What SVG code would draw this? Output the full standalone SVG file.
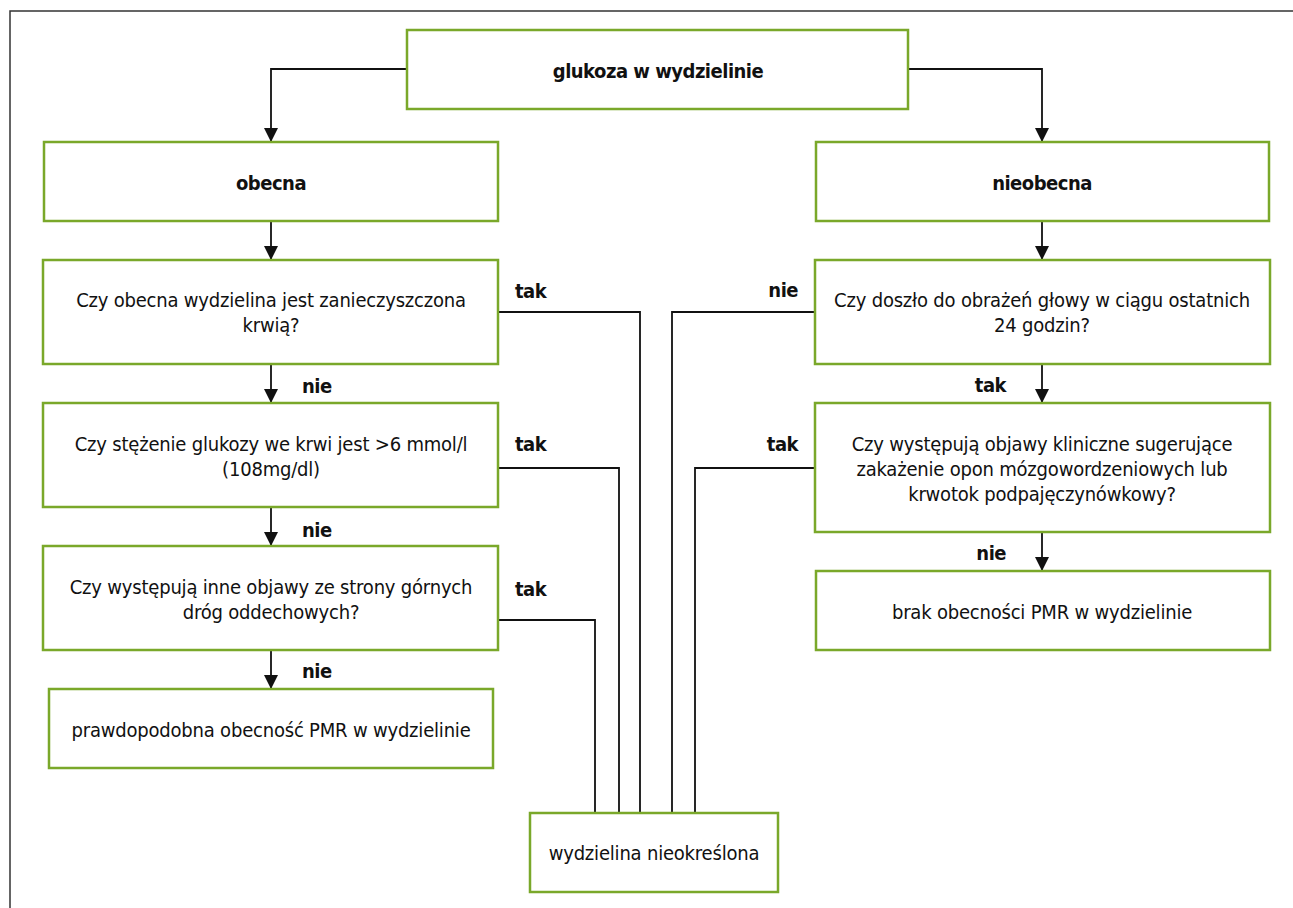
<svg xmlns="http://www.w3.org/2000/svg" width="1293" height="908" viewBox="0 0 1293 908">
<style>
.box{fill:#fff;stroke:#7aa82a;stroke-width:2.5}
.t{font-family:"Liberation Sans Narrow","Arial Narrow","DejaVu Sans Condensed",sans-serif;font-stretch:condensed;font-size:20px;letter-spacing:-0.2px;fill:#111;text-anchor:middle}
.b{font-family:"Liberation Sans Narrow","Arial Narrow","DejaVu Sans Condensed",sans-serif;font-stretch:condensed;font-size:20px;letter-spacing:-0.5px;font-weight:bold;fill:#111}
.c{fill:none;stroke:#111;stroke-width:1.8}
.m{text-anchor:middle}
.e{text-anchor:end}
</style>
<defs>
<marker id="ar" markerWidth="15" markerHeight="14" refX="14" refY="7" orient="auto" markerUnits="userSpaceOnUse">
<path d="M0,0 L14,7 L0,14 Z" fill="#111"/>
</marker>
</defs>
<path d="M10,908 V11 H1293" fill="none" stroke="#333" stroke-width="1.5"/>
<g id="connectors">
<path class="c" d="M407,69 H271 V142" marker-end="url(#ar)"/>
<path class="c" d="M908,69 H1042 V142" marker-end="url(#ar)"/>
<path class="c" d="M271,221 V260" marker-end="url(#ar)"/>
<path class="c" d="M1042,221 V260" marker-end="url(#ar)"/>
<path class="c" d="M271,364 V403" marker-end="url(#ar)"/>
<path class="c" d="M271,507 V546" marker-end="url(#ar)"/>
<path class="c" d="M271,650 V689" marker-end="url(#ar)"/>
<path class="c" d="M1042,364 V403" marker-end="url(#ar)"/>
<path class="c" d="M1042,532 V571" marker-end="url(#ar)"/>
<path class="c" d="M498,312 H640 V813"/>
<path class="c" d="M498,468 H619 V813"/>
<path class="c" d="M498,620 H595 V813"/>
<path class="c" d="M815,312 H672 V813"/>
<path class="c" d="M815,468 H695 V813"/>
<text class="b" x="515" y="298">tak</text>
<text class="b" x="515" y="451">tak</text>
<text class="b" x="515" y="596">tak</text>
<text class="b" x="302" y="393">nie</text>
<text class="b" x="302" y="537">nie</text>
<text class="b" x="302" y="678">nie</text>
<text class="b e" x="798" y="297">nie</text>
<text class="b e" x="1006" y="392">tak</text>
<text class="b e" x="798" y="451">tak</text>
<text class="b e" x="1006" y="560">nie</text>
</g>
<g id="n_glukoza">
<rect class="box" x="407" y="30" width="501" height="79"/>
<text class="b m" x="658" y="78">glukoza w wydzielinie</text>
</g>
<g id="n_obecna">
<rect class="box" x="44" y="142" width="454" height="79"/>
<text class="b m" x="271" y="190">obecna</text>
</g>
<g id="n_nieobecna">
<rect class="box" x="816" y="142" width="453" height="79"/>
<text class="b m" x="1042" y="190">nieobecna</text>
</g>
<g id="n_q1">
<rect class="box" x="43" y="260" width="455" height="104"/>
<text class="t" x="271" y="307">Czy obecna wydzielina jest zanieczyszczona</text>
<text class="t" x="271" y="332">krwią?</text>
</g>
<g id="n_q2">
<rect class="box" x="43" y="403" width="455" height="104"/>
<text class="t" x="271" y="451">Czy stężenie glukozy we krwi jest &gt;6 mmol/l</text>
<text class="t" x="271" y="476">(108mg/dl)</text>
</g>
<g id="n_q3">
<rect class="box" x="43" y="546" width="455" height="104"/>
<text class="t" x="271" y="594">Czy występują inne objawy ze strony górnych</text>
<text class="t" x="271" y="619">dróg oddechowych?</text>
</g>
<g id="n_r1">
<rect class="box" x="49" y="689" width="444" height="79"/>
<text class="t" x="271" y="737">prawdopodobna obecność PMR w wydzielinie</text>
</g>
<g id="n_q4">
<rect class="box" x="815" y="260" width="455" height="104"/>
<text class="t" x="1042" y="307">Czy doszło do obrażeń głowy w ciągu ostatnich</text>
<text class="t" x="1042" y="332">24 godzin?</text>
</g>
<g id="n_q5">
<rect class="box" x="815" y="403" width="455" height="129"/>
<text class="t" x="1042" y="451">Czy występują objawy kliniczne sugerujące</text>
<text class="t" x="1042" y="476">zakażenie opon mózgowordzeniowych lub</text>
<text class="t" x="1042" y="501">krwotok podpajęczynówkowy?</text>
</g>
<g id="n_r2">
<rect class="box" x="816" y="571" width="454" height="79"/>
<text class="t" x="1042" y="619">brak obecności PMR w wydzielinie</text>
</g>
<g id="n_bottom">
<rect class="box" x="530" y="813" width="248" height="79"/>
<text class="t" x="654" y="860">wydzielina nieokreślona</text>
</g>
</svg>
